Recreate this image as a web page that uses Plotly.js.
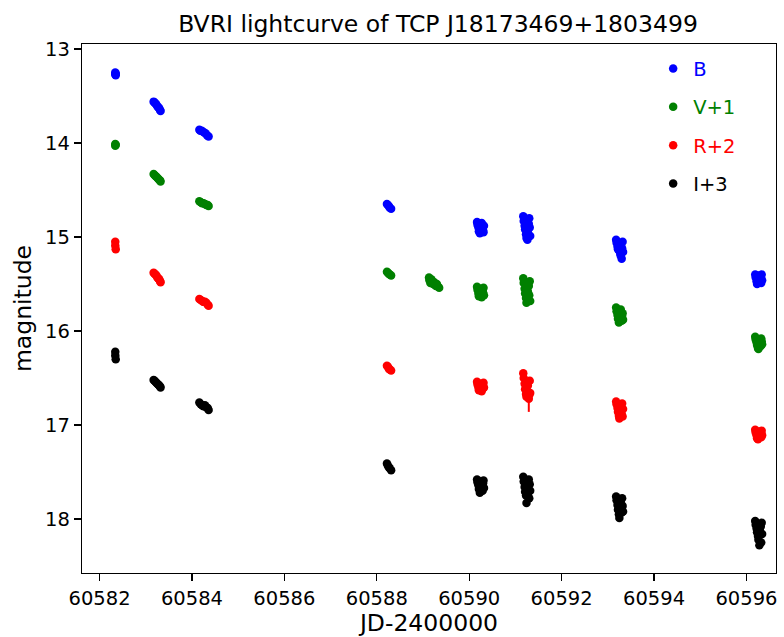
<!DOCTYPE html>
<html>
<head>
<meta charset="utf-8">
<script src="https://cdn.plot.ly/plotly-3.0.1.min.js"></script>
<style>body{margin:0;background:#fff;} #chart{width:784px;height:637px;}</style>
</head>
<body>
<div id="chart"></div>
<script>
// ---- Data ----
const jdB = [
  60582.34, 60582.34, 60582.35, 60582.35,
  60583.17, 60583.19, 60583.21, 60583.23, 60583.25, 60583.27, 60583.29, 60583.31, 60583.32,
  60584.16, 60584.18, 60584.21, 60584.24, 60584.27, 60584.30, 60584.33, 60584.36,
  60588.22, 60588.24, 60588.26, 60588.28, 60588.31,
  60590.17, 60590.18, 60590.20, 60590.21, 60590.23, 60590.24, 60590.26, 60590.27, 60590.29, 60590.30, 60590.31, 60590.32,
  60591.17, 60591.18, 60591.20, 60591.21, 60591.23, 60591.24, 60591.26, 60591.27, 60591.29, 60591.30, 60591.31, 60591.32,
  60593.18, 60593.19, 60593.21, 60593.22, 60593.24, 60593.25, 60593.27, 60593.28, 60593.30, 60593.31, 60593.32, 60593.33,
  60596.19, 60596.20, 60596.22, 60596.23, 60596.25, 60596.26, 60596.28, 60596.29, 60596.31, 60596.32, 60596.33, 60596.34
];
const magB = [
  13.25, 13.27, 13.28, 13.26,
  13.56, 13.57, 13.58, 13.59, 13.61, 13.62, 13.63, 13.65, 13.66,
  13.86, 13.87, 13.87, 13.88, 13.89, 13.90, 13.92, 13.93,
  14.65, 14.66, 14.67, 14.69, 14.70,
  14.84, 14.87, 14.90, 14.94, 14.96, 14.92, 14.86, 14.85, 14.89, 14.93, 14.95, 14.88,
  14.78, 14.83, 14.88, 14.92, 14.97, 15.01, 15.03, 14.95, 14.86, 14.80, 14.90, 14.99,
  15.03, 15.06, 15.10, 15.13, 15.08, 15.15, 15.18, 15.20, 15.23, 15.12, 15.05, 15.16,
  15.40, 15.43, 15.47, 15.50, 15.45, 15.41, 15.48, 15.44, 15.42, 15.49, 15.40, 15.46
];
const errB = [
  0.01, 0.01, 0.01, 0.01,
  0.01, 0.01, 0.01, 0.01, 0.01, 0.01, 0.01, 0.01, 0.01,
  0.01, 0.01, 0.01, 0.01, 0.01, 0.01, 0.01, 0.01,
  0.01, 0.01, 0.01, 0.01, 0.01,
  0.02, 0.02, 0.02, 0.02, 0.02, 0.02, 0.02, 0.02, 0.02, 0.02, 0.02, 0.02,
  0.02, 0.02, 0.02, 0.02, 0.02, 0.02, 0.02, 0.02, 0.02, 0.02, 0.02, 0.02,
  0.02, 0.02, 0.02, 0.02, 0.02, 0.02, 0.02, 0.02, 0.02, 0.02, 0.02, 0.02,
  0.02, 0.02, 0.02, 0.02, 0.02, 0.02, 0.02, 0.02, 0.02, 0.02, 0.02, 0.02
];

const jdV = [
  60582.34, 60582.34, 60582.35,
  60583.17, 60583.19, 60583.21, 60583.23, 60583.25, 60583.27, 60583.29, 60583.31, 60583.32,
  60584.16, 60584.19, 60584.22, 60584.25, 60584.28, 60584.31, 60584.34, 60584.36,
  60588.22, 60588.24, 60588.26, 60588.28, 60588.31,
  60589.13, 60589.14, 60589.16, 60589.18, 60589.20, 60589.22, 60589.24, 60589.26, 60589.28, 60589.30, 60589.33, 60589.35,
  60590.17, 60590.18, 60590.20, 60590.21, 60590.23, 60590.24, 60590.26, 60590.27, 60590.29, 60590.30, 60590.31, 60590.32,
  60591.17, 60591.18, 60591.20, 60591.21, 60591.23, 60591.24, 60591.26, 60591.27, 60591.29, 60591.30, 60591.31, 60591.32,
  60593.18, 60593.19, 60593.21, 60593.22, 60593.24, 60593.25, 60593.27, 60593.28, 60593.30, 60593.31, 60593.32, 60593.33,
  60596.19, 60596.20, 60596.22, 60596.23, 60596.25, 60596.26, 60596.28, 60596.29, 60596.31, 60596.32, 60596.33, 60596.34
];
const magV = [
  14.01, 14.03, 14.02,
  14.33, 14.34, 14.35, 14.36, 14.37, 14.38, 14.39, 14.40, 14.41,
  14.62, 14.63, 14.64, 14.64, 14.65, 14.66, 14.66, 14.67,
  15.37, 15.38, 15.39, 15.40, 15.41,
  15.43, 15.46, 15.49, 15.45, 15.47, 15.50, 15.48, 15.51, 15.52, 15.50, 15.53, 15.54,
  15.53, 15.56, 15.60, 15.63, 15.58, 15.55, 15.61, 15.64, 15.57, 15.59, 15.54, 15.62,
  15.44, 15.49, 15.55, 15.60, 15.65, 15.70, 15.67, 15.58, 15.52, 15.62, 15.47, 15.68,
  15.75, 15.79, 15.83, 15.87, 15.91, 15.85, 15.80, 15.77, 15.89, 15.84, 15.81, 15.88,
  16.06, 16.09, 16.12, 16.15, 16.18, 16.19, 16.13, 16.10, 16.16, 16.08, 16.11, 16.14
];
const errV = [
  0.01, 0.01, 0.01,
  0.01, 0.01, 0.01, 0.01, 0.01, 0.01, 0.01, 0.01, 0.01,
  0.01, 0.01, 0.01, 0.01, 0.01, 0.01, 0.01, 0.01,
  0.01, 0.01, 0.01, 0.01, 0.01,
  0.02, 0.02, 0.02, 0.02, 0.02, 0.02, 0.02, 0.02, 0.02, 0.02, 0.02, 0.02,
  0.02, 0.02, 0.02, 0.02, 0.02, 0.02, 0.02, 0.02, 0.02, 0.02, 0.02, 0.02,
  0.02, 0.02, 0.02, 0.02, 0.02, 0.02, 0.02, 0.02, 0.02, 0.02, 0.02, 0.02,
  0.02, 0.02, 0.02, 0.02, 0.02, 0.02, 0.02, 0.02, 0.02, 0.02, 0.02, 0.02,
  0.02, 0.02, 0.02, 0.02, 0.02, 0.02, 0.02, 0.02, 0.02, 0.02, 0.02, 0.02
];

const jdR = [
  60582.34, 60582.34, 60582.35,
  60583.17, 60583.19, 60583.21, 60583.23, 60583.25, 60583.27, 60583.29, 60583.31, 60583.32,
  60584.16, 60584.19, 60584.22, 60584.25, 60584.28, 60584.31, 60584.34, 60584.36,
  60588.22, 60588.24, 60588.26, 60588.28, 60588.31,
  60590.17, 60590.18, 60590.20, 60590.21, 60590.23, 60590.24, 60590.26, 60590.27, 60590.29, 60590.30, 60590.31, 60590.32,
  60591.17, 60591.18, 60591.20, 60591.21, 60591.23, 60591.24, 60591.26, 60591.27, 60591.29, 60591.30, 60591.31, 60591.32,
  60593.18, 60593.19, 60593.21, 60593.22, 60593.24, 60593.25, 60593.27, 60593.28, 60593.30, 60593.31, 60593.32, 60593.33,
  60596.19, 60596.20, 60596.22, 60596.23, 60596.25, 60596.26, 60596.28, 60596.29, 60596.31, 60596.32, 60596.33, 60596.34
];
const magR = [
  15.05, 15.09, 15.13,
  15.38, 15.39, 15.40, 15.41, 15.43, 15.44, 15.45, 15.47, 15.48,
  15.66, 15.67, 15.68, 15.69, 15.69, 15.70, 15.72, 15.73,
  16.37, 16.38, 16.40, 16.41, 16.42,
  16.54, 16.57, 16.60, 16.63, 16.59, 16.56, 16.62, 16.64, 16.58, 16.61, 16.55, 16.60,
  16.45, 16.50, 16.56, 16.62, 16.67, 16.70, 16.64, 16.58, 16.72, 16.68, 16.53, 16.66,
  16.75, 16.78, 16.82, 16.86, 16.90, 16.93, 16.80, 16.84, 16.88, 16.77, 16.91, 16.83,
  17.05, 17.08, 17.11, 17.14, 17.15, 17.10, 17.07, 17.12, 17.09, 17.13, 17.06, 17.11
];
const errR = [
  0.01, 0.01, 0.01,
  0.01, 0.01, 0.01, 0.01, 0.01, 0.01, 0.01, 0.01, 0.01,
  0.01, 0.01, 0.01, 0.01, 0.01, 0.01, 0.01, 0.01,
  0.01, 0.01, 0.01, 0.01, 0.01,
  0.02, 0.02, 0.02, 0.02, 0.02, 0.02, 0.02, 0.02, 0.02, 0.02, 0.02, 0.02,
  0.02, 0.02, 0.02, 0.02, 0.02, 0.02, 0.02, 0.02, 0.14, 0.02, 0.02, 0.02,
  0.02, 0.02, 0.02, 0.02, 0.02, 0.02, 0.02, 0.02, 0.02, 0.02, 0.02, 0.02,
  0.02, 0.02, 0.02, 0.02, 0.02, 0.02, 0.02, 0.02, 0.02, 0.02, 0.02, 0.02
];

const jdI = [
  60582.34, 60582.34, 60582.35,
  60583.17, 60583.19, 60583.21, 60583.23, 60583.25, 60583.27, 60583.29, 60583.31, 60583.32,
  60584.16, 60584.19, 60584.22, 60584.25, 60584.28, 60584.31, 60584.34, 60584.36,
  60588.22, 60588.24, 60588.26, 60588.28, 60588.31,
  60590.17, 60590.18, 60590.20, 60590.21, 60590.23, 60590.24, 60590.26, 60590.27, 60590.29, 60590.30, 60590.31, 60590.32,
  60591.17, 60591.18, 60591.20, 60591.21, 60591.23, 60591.24, 60591.26, 60591.27, 60591.29, 60591.30, 60591.31, 60591.32,
  60593.18, 60593.19, 60593.21, 60593.22, 60593.24, 60593.25, 60593.27, 60593.28, 60593.30, 60593.31, 60593.32, 60593.33,
  60596.19, 60596.20, 60596.22, 60596.23, 60596.25, 60596.26, 60596.28, 60596.29, 60596.31, 60596.32, 60596.33, 60596.34
];
const magI = [
  16.22, 16.26, 16.30,
  16.52, 16.53, 16.54, 16.55, 16.56, 16.57, 16.58, 16.59, 16.60,
  16.76, 16.78, 16.79, 16.80, 16.79, 16.81, 16.82, 16.84,
  17.41, 17.43, 17.45, 17.46, 17.48,
  17.58, 17.61, 17.64, 17.68, 17.72, 17.63, 17.60, 17.66, 17.70, 17.62, 17.59, 17.67,
  17.55, 17.60, 17.66, 17.71, 17.75, 17.83, 17.68, 17.73, 17.58, 17.78, 17.63, 17.70,
  17.76, 17.80, 17.85, 17.90, 17.95, 17.99, 17.88, 17.82, 17.93, 17.78, 17.86, 17.92,
  18.02, 18.06, 18.10, 18.14, 18.18, 18.22, 18.28, 18.12, 18.08, 18.25, 18.04, 18.16
];
const errI = [
  0.01, 0.01, 0.01,
  0.01, 0.01, 0.01, 0.01, 0.01, 0.01, 0.01, 0.01, 0.01,
  0.01, 0.01, 0.01, 0.01, 0.01, 0.01, 0.01, 0.01,
  0.01, 0.01, 0.01, 0.01, 0.01,
  0.02, 0.02, 0.02, 0.02, 0.02, 0.02, 0.02, 0.02, 0.02, 0.02, 0.02, 0.02,
  0.02, 0.02, 0.02, 0.02, 0.02, 0.02, 0.02, 0.02, 0.02, 0.02, 0.02, 0.02,
  0.02, 0.02, 0.02, 0.02, 0.02, 0.02, 0.02, 0.02, 0.02, 0.02, 0.02, 0.02,
  0.02, 0.02, 0.02, 0.02, 0.02, 0.02, 0.02, 0.02, 0.02, 0.02, 0.02, 0.02
];

const seriesNames = ['B', 'V+1', 'R+2', 'I+3'];
const seriesColors = ['#0000ff', '#008000', '#ff0000', '#000000'];
const xTickVals = [60582, 60584, 60586, 60588, 60590, 60592, 60594, 60596];
const yTickVals = [13, 14, 15, 16, 17, 18];

// ---- Build traces ----
const sets = [[jdB, magB, errB], [jdV, magV, errV], [jdR, magR, errR], [jdI, magI, errI]];
const traces = sets.map(function (s, i) {
  return {
    type: 'scatter',
    mode: 'markers',
    x: s[0],
    y: s[1],
    name: '<span style="color:' + seriesColors[i] + '">' + seriesNames[i] + '</span>',
    legendgroup: 'g' + i,
    marker: {color: seriesColors[i], size: 8.5, line: {width: 0}},
    error_y: {type: 'data', array: s[2], visible: true, color: seriesColors[i], thickness: 2, width: 0}
  };
});

const font = 'DejaVu Sans, sans-serif';
const layout = {
  width: 784,
  height: 637,
  margin: {l: 82, r: 8, t: 44, b: 64},
  paper_bgcolor: '#ffffff',
  plot_bgcolor: '#ffffff',
  font: {family: font, size: 19.5, color: '#000000'},
  title: {text: 'BVRI lightcurve of TCP J18173469+1803499', font: {family: font, size: 23.5, color: '#000'},
          xref: 'paper', x: 0.513, xanchor: 'center', yref: 'container', y: 0.963, yanchor: 'middle'},
  showlegend: true,
  legend: {x: 0.823, y: 0.99, xanchor: 'left', yanchor: 'top', bgcolor: 'rgba(0,0,0,0)',
           borderwidth: 0, traceorder: 'grouped', tracegroupgap: 10, font: {family: font, size: 19.5},
           itemwidth: 30},
  xaxis: {
    range: [60581.62, 60596.64],
    tickvals: xTickVals,
    ticktext: xTickVals.map(String),
    showgrid: false, zeroline: false,
    showline: true, mirror: true, linecolor: '#000', linewidth: 1.2,
    ticks: 'outside', ticklen: 7, tickwidth: 1.2, tickcolor: '#000',
    tickfont: {family: font, size: 19.5},
    title: {text: 'JD-2400000', font: {family: font, size: 23.5}, standoff: 9}
  },
  yaxis: {
    range: [18.574, 12.947],
    tickvals: yTickVals,
    ticktext: yTickVals.map(String),
    showgrid: false, zeroline: false,
    showline: true, mirror: true, linecolor: '#000', linewidth: 1.2,
    ticks: 'outside', ticklen: 7, tickwidth: 1.2, tickcolor: '#000',
    tickfont: {family: font, size: 19.5},
    title: {text: 'magnitude', font: {family: font, size: 23.5}, standoff: 6}
  }
};

Plotly.newPlot('chart', traces, layout, {displayModeBar: false, staticPlot: true});
</script>
</body>
</html>
